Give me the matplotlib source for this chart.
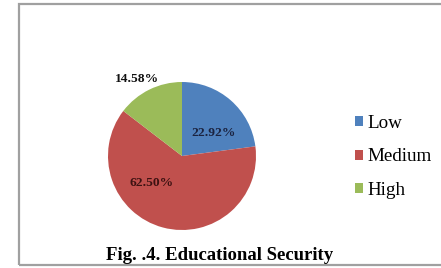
import matplotlib.pyplot as plt
from matplotlib.patches import Rectangle

labels = ['Low', 'Medium', 'High']
values = [22.92, 62.50, 14.58]
colors = ['#4F81BD', '#C0504D', '#9BBB59']
pct_text = ['22.92%', '62.50%', '14.58%']
pct_colors = ['#1b2340', '#3d1212', '#111111']
pct_pos = [(0.42, 0.31), (-0.41, -0.37), (-0.61, 1.04)]

plt.rcParams['font.family'] = ['Liberation Serif', 'DejaVu Serif']

W, H = 441, 268
fig = plt.figure(figsize=(W / 100, H / 100), dpi=100)

# outer frame
fig.patches.append(Rectangle((19 / W, 1 - 265 / H), 1.0, (265 - 4) / H,
                             transform=fig.transFigure, fill=False,
                             edgecolor='#a0a0a0', linewidth=1.6))

cx, cy, r = 182, 156, 74
ax = fig.add_axes([(cx - r) / W, 1 - (cy + r) / H, 2 * r / W, 2 * r / H])
wedges, _ = ax.pie(values, colors=colors, startangle=90, counterclock=False,
                   radius=1.0)
ax.set_xlim(-1, 1)
ax.set_ylim(-1, 1)
ax.set_aspect('equal')
ax.axis('off')

for t, c, (x, y) in zip(pct_text, pct_colors, pct_pos):
    ax.text(x, y, t, ha='center', va='center', fontsize=9.7,
            fontweight='bold', color=c)

fig.legend(wedges, labels, loc='center left',
           bbox_to_anchor=(355 / W, 1 - 157 / H), frameon=False,
           fontsize=13.7, handlelength=0.42, handleheight=0.42,
           handletextpad=0.25, labelspacing=0.86, borderpad=0,
           borderaxespad=0)

fig.text(220 / W, 1 - 255 / H, 'Fig. .4. Educational Security',
         ha='center', va='center', fontsize=13.5, fontweight='bold')

fig.savefig('out.png', dpi=100)
